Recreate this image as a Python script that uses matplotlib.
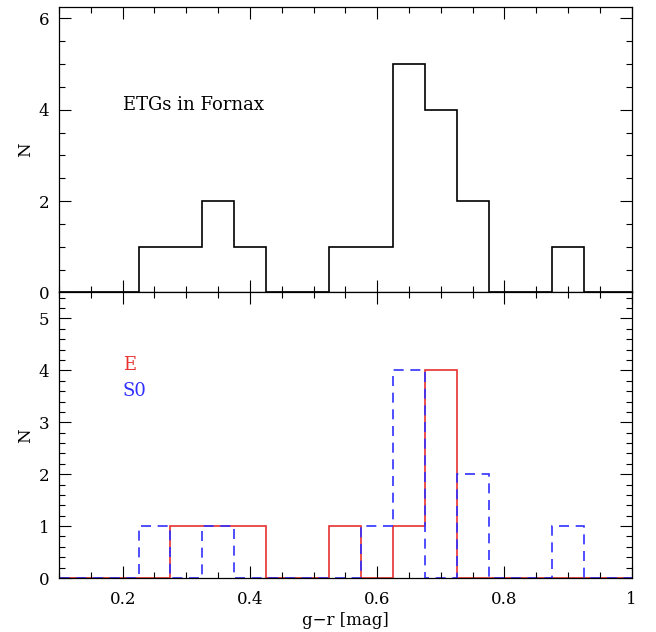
import matplotlib
matplotlib.use('Agg')
import matplotlib.pyplot as plt
import numpy as np
from matplotlib.ticker import MultipleLocator

plt.rcParams['font.family'] = 'DejaVu Serif'
plt.rcParams['font.size'] = 12

# bin edges of the g-r histograms (width 0.05 mag)
bin_lo = 0.075
bin_width = 0.05
n_bins = 19
edges = bin_lo + bin_width * np.arange(n_bins + 1)

# counts per bin
counts_E = [0, 0, 0, 0, 1, 1, 1, 0, 0, 1, 0, 1, 4, 0, 0, 0, 0, 0, 0]
counts_S0 = [0, 0, 0, 1, 0, 1, 0, 0, 0, 0, 1, 4, 0, 2, 0, 0, 1, 0, 0]
counts_all = [e + s for e, s in zip(counts_E, counts_S0)]

x_ticks = [0.2, 0.4, 0.6, 0.8, 1.0]
x_ticklabels = ['0.2', '0.4', '0.6', '0.8', '1']

fig, (ax1, ax2) = plt.subplots(2, 1, figsize=(6.56, 6.32), dpi=100, sharex=True)
fig.subplots_adjust(left=0.09, right=0.963, top=0.989, bottom=0.0854, hspace=0)

# top: all ETGs
ax1.stairs(counts_all, edges, color='black', lw=1.2)
ax1.set_ylim(0, 6.25)
ax1.set_ylabel('N', labelpad=3)
ax1.yaxis.set_major_locator(MultipleLocator(2))
ax1.yaxis.set_minor_locator(MultipleLocator(0.5))
ax1.text(0.2, 4.0, 'ETGs in Fornax', fontsize=13)

# bottom: E and S0 separately
ax2.stairs(counts_E, edges, color='#e83030', lw=1.2)
ax2.stairs(counts_S0, edges, color='#3030ff', lw=1.2, linestyle=(0, (6, 4)))
ax2.set_ylim(0, 5.5)
ax2.set_ylabel('N', labelpad=3)
ax2.yaxis.set_major_locator(MultipleLocator(1))
ax2.yaxis.set_minor_locator(MultipleLocator(0.2))
ax2.text(0.2, 4.0, 'E', color='#e83030', fontsize=13)
ax2.text(0.2, 3.5, 'S0', color='#3030ff', fontsize=13)
ax2.set_xlabel('g\u2212r [mag]', labelpad=3)

ax2.set_xlim(0.1, 1.0)
ax2.set_xticks(x_ticks)
ax2.set_xticklabels(x_ticklabels)
ax2.xaxis.set_minor_locator(MultipleLocator(0.05))

for ax in (ax1, ax2):
    ax.tick_params(which='both', direction='in', top=True, right=True, width=0.8)
    ax.tick_params(which='major', length=8.5, labelsize=12)
    ax.tick_params(which='minor', length=4)
    ax.tick_params(axis='x', which='major', pad=9)
    ax.tick_params(axis='y', which='major', pad=7)
    for sp in ax.spines.values():
        sp.set_linewidth(0.9)

fig.savefig('out.png', dpi=100)
